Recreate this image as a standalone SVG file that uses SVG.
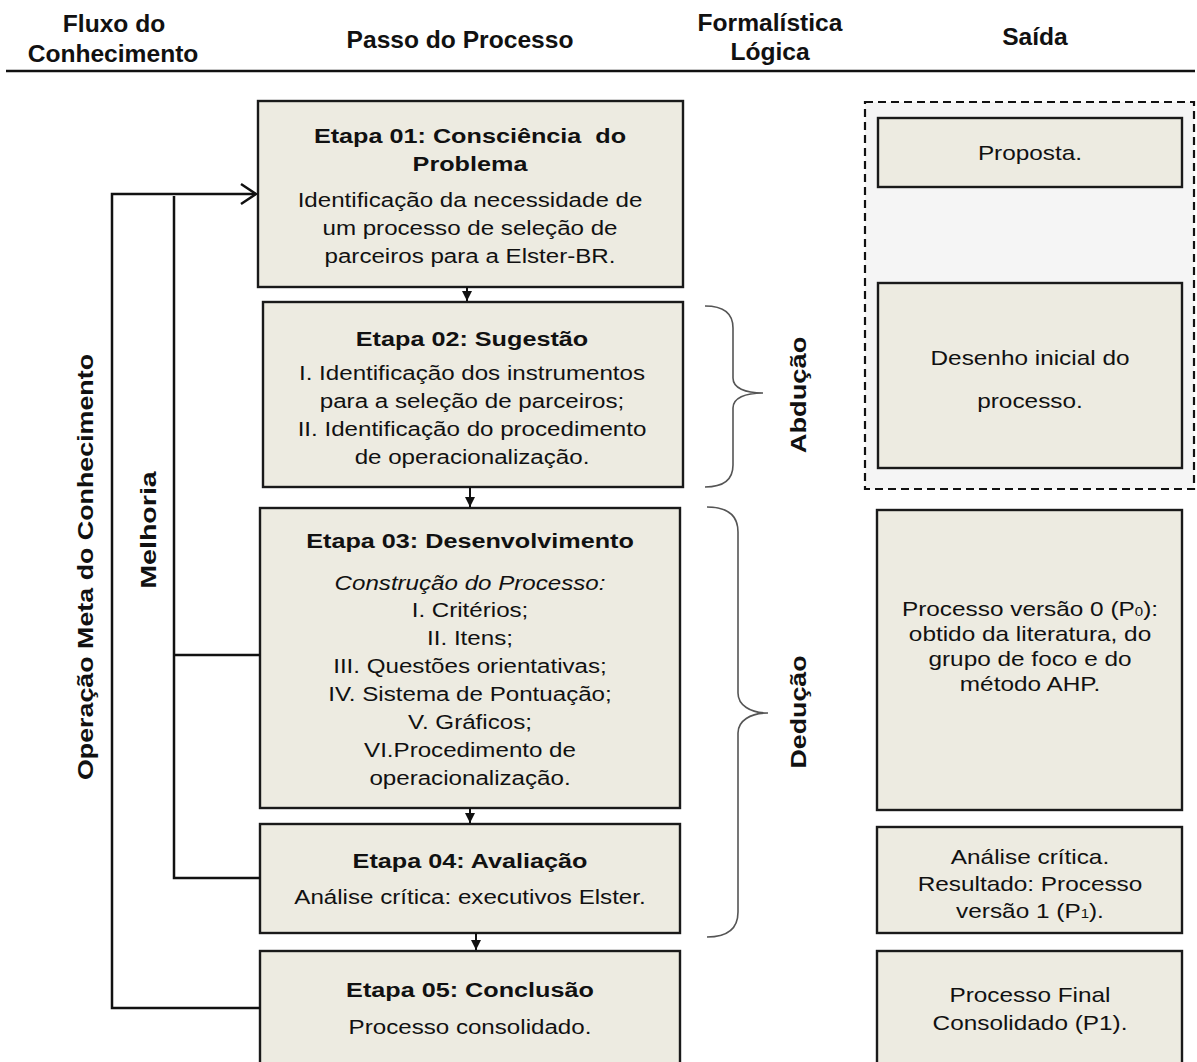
<svg xmlns="http://www.w3.org/2000/svg" width="1197" height="1062" viewBox="0 0 1197 1062">
<style>
text{font-family:"Liberation Sans",Arial,sans-serif;fill:#111;text-anchor:middle;}
.h{font-size:23px;font-weight:bold;}
.t{font-size:21px;}
.b{font-size:21px;font-weight:bold;}
.o{font-size:21px;}
.v{font-size:22px;font-weight:bold;}
.box{fill:#edebe1;stroke:#1a1a1a;stroke-width:2.4;}
.ln{fill:none;stroke:#111;stroke-width:2.5;}
.ar{fill:none;stroke:#111;stroke-width:2;}
.br{fill:none;stroke:#555;stroke-width:1.6;}
</style>
<defs>
<marker id="tri" viewBox="0 0 10 10" refX="10" refY="5" markerWidth="11" markerHeight="10" orient="auto" markerUnits="userSpaceOnUse">
<path d="M0,0 L10,5 L0,10 z" fill="#111"/>
</marker>
</defs>
<rect width="1197" height="1062" fill="#fff"/>
<g id="header">
<text class="h" transform="translate(114,32) scale(1.07,1)">Fluxo do</text>
<text class="h" transform="translate(113,62) scale(1.07,1)">Conhecimento</text>
<text class="h" transform="translate(460,48) scale(1.07,1)">Passo do Processo</text>
<text class="h" transform="translate(770,31) scale(1.07,1)">Formalística</text>
<text class="h" transform="translate(770,60) scale(1.07,1)">Lógica</text>
<text class="h" transform="translate(1035,45) scale(1.07,1)">Saída</text>
<line x1="6" y1="71" x2="1195" y2="71" stroke="#111" stroke-width="2.5"/>
</g>
<g id="output-group">
<rect x="865" y="102" width="329" height="387" fill="#f5f5f5" stroke="#111" stroke-width="2.2" stroke-dasharray="8,5"/>
</g>
<g id="step1">
<rect class="box" x="258" y="101" width="425" height="186"/>
<text class="b" transform="translate(470,143) scale(1.2,1)">Etapa 01: Consciência&#160; do</text>
<text class="b" transform="translate(470,171) scale(1.2,1)">Problema</text>
<text class="t" transform="translate(470,207) scale(1.15,1)">Identificação da necessidade de</text>
<text class="t" transform="translate(470,235) scale(1.15,1)">um processo de seleção de</text>
<text class="t" transform="translate(470,263) scale(1.15,1)">parceiros para a Elster-BR.</text>
</g>
<g id="step2">
<rect class="box" x="263" y="302" width="420" height="185"/>
<text class="b" transform="translate(472,346) scale(1.2,1)">Etapa 02: Sugestão</text>
<text class="t" transform="translate(472,380) scale(1.15,1)">I. Identificação dos instrumentos</text>
<text class="t" transform="translate(472,408) scale(1.15,1)">para a seleção de parceiros;</text>
<text class="t" transform="translate(472,436) scale(1.15,1)">II. Identificação do procedimento</text>
<text class="t" transform="translate(472,464) scale(1.15,1)">de operacionalização.</text>
</g>
<g id="step3">
<rect class="box" x="260" y="508" width="420" height="300"/>
<text class="b" transform="translate(470,548) scale(1.2,1)">Etapa 03: Desenvolvimento</text>
<text class="t" font-style="italic" transform="translate(470,590) scale(1.15,1)">Construção do Processo:</text>
<text class="t" transform="translate(470,617) scale(1.15,1)">I. Critérios;</text>
<text class="t" transform="translate(470,645) scale(1.15,1)">II. Itens;</text>
<text class="t" transform="translate(470,673) scale(1.15,1)">III. Questões orientativas;</text>
<text class="t" transform="translate(470,701) scale(1.15,1)">IV. Sistema de Pontuação;</text>
<text class="t" transform="translate(470,729) scale(1.15,1)">V. Gráficos;</text>
<text class="t" transform="translate(470,757) scale(1.15,1)">VI.Procedimento de</text>
<text class="t" transform="translate(470,785) scale(1.15,1)">operacionalização.</text>
</g>
<g id="step4">
<rect class="box" x="260" y="824" width="420" height="109"/>
<text class="b" transform="translate(470,868) scale(1.2,1)">Etapa 04: Avaliação</text>
<text class="t" transform="translate(470,904) scale(1.15,1)">Análise crítica: executivos Elster.</text>
</g>
<g id="step5">
<rect class="box" x="260" y="951" width="420" height="120"/>
<text class="b" transform="translate(470,997) scale(1.2,1)">Etapa 05: Conclusão</text>
<text class="t" transform="translate(470,1034) scale(1.15,1)">Processo consolidado.</text>
</g>
<g id="out1">
<rect class="box" x="878" y="118" width="304" height="69"/>
<text class="o" transform="translate(1030,160) scale(1.16,1)">Proposta.</text>
</g>
<g id="out2">
<rect class="box" x="878" y="283" width="304" height="185"/>
<text class="o" transform="translate(1030,365) scale(1.16,1)">Desenho inicial do</text>
<text class="o" transform="translate(1030,408) scale(1.16,1)">processo.</text>
</g>
<g id="out3">
<rect class="box" x="877" y="510" width="305" height="300"/>
<text class="o" transform="translate(1030,616) scale(1.16,1)">Processo versão 0 (P<tspan font-size="13">0</tspan>):</text>
<text class="o" transform="translate(1030,641) scale(1.16,1)">obtido da literatura, do</text>
<text class="o" transform="translate(1030,666) scale(1.16,1)">grupo de foco e do</text>
<text class="o" transform="translate(1030,691) scale(1.16,1)">método AHP.</text>
</g>
<g id="out4">
<rect class="box" x="877" y="827" width="305" height="106"/>
<text class="o" transform="translate(1030,864) scale(1.16,1)">Análise crítica.</text>
<text class="o" transform="translate(1030,891) scale(1.16,1)">Resultado: Processo</text>
<text class="o" transform="translate(1030,918) scale(1.16,1)">versão 1 (P<tspan font-size="13">1</tspan>).</text>
</g>
<g id="out5">
<rect class="box" x="877" y="951" width="305" height="120"/>
<text class="o" transform="translate(1030,1002) scale(1.16,1)">Processo Final</text>
<text class="o" transform="translate(1030,1030) scale(1.16,1)">Consolidado (P1).</text>
</g>
<g id="labels">
<text class="v" transform="translate(93,567) rotate(-90) scale(1.22,1)">Operação Meta do Conhecimento</text>
<text class="v" transform="translate(156,530) rotate(-90) scale(1.3,1)">Melhoria</text>
<text class="v" transform="translate(806,395) rotate(-90) scale(1.24,1)">Abdução</text>
<text class="v" transform="translate(806,712) rotate(-90) scale(1.22,1)">Dedução</text>
</g>
<g id="connectors">
<line class="ar" x1="467" y1="287" x2="467" y2="301" marker-end="url(#tri)"/>
<line class="ar" x1="470" y1="487" x2="470" y2="507" marker-end="url(#tri)"/>
<line class="ar" x1="470" y1="808" x2="470" y2="823" marker-end="url(#tri)"/>
<line class="ar" x1="476" y1="933" x2="476" y2="950" marker-end="url(#tri)"/>
<polyline class="ln" points="260,1008 112,1008 112,194 256,194"/>
<polyline class="ln" points="241,184 256,194 241,204"/>
<polyline class="ln" points="174,196 174,878 260,878"/>
<line class="ln" x1="174" y1="655" x2="260" y2="655"/>
<path class="br" d="M705,306 C722,306 733,312 733,328 L733,378 C733,388 745,393 763,393 C745,393 733,398 733,408 L733,465 C733,481 722,487 705,487"/>
<path class="br" d="M707,507 C726,507 738,514 738,532 L738,693 C738,705 750,713 768,713 C750,713 738,721 738,733 L738,912 C738,930 726,937 707,937"/>
</g>
</svg>
